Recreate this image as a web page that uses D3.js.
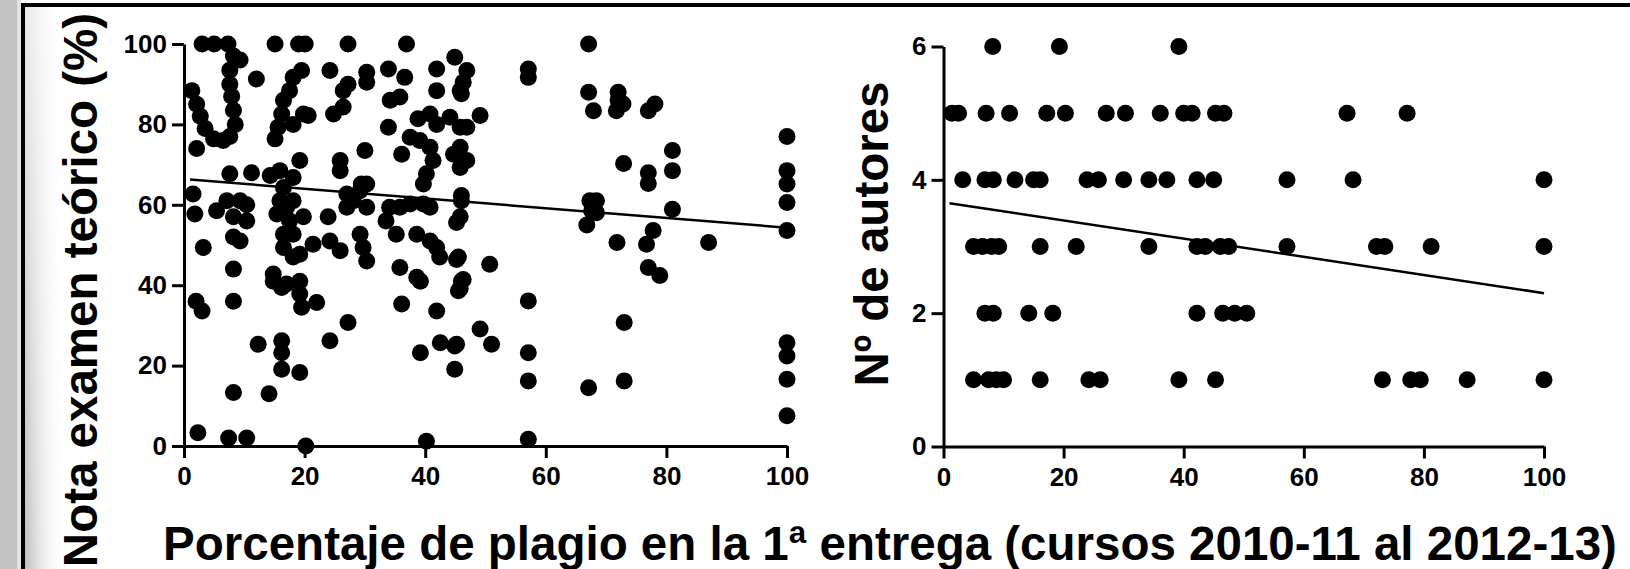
<!DOCTYPE html>
<html>
<head>
<meta charset="utf-8">
<script src="https://cdn.jsdelivr.net/npm/d3@7"></script>
<style>
  body { margin: 0; background: #fff; overflow: hidden; }
  text { font-family: "Liberation Sans", Arial, sans-serif; font-weight: bold; fill: #000; }
</style>
</head>
<body>
<div id="chart"></div>
<script>
// left panel: % plagio vs nota examen teorico
var plagioNota = [3,5,7.3,8.2,9.3,7.6,7.6,7.9,8.2,8.5,7.6,12,1.3,2.1,2.7,3.5,4.9,6.5,2.1,1.5,1.8,3.2,8.2,5.4,7.1,9.3,10.4,8.2,10.4,8.2,9.3,7.6,11.2,14.3,15.9,19.2,18.1,16.5,
  15.1,19,20.1,19.5,18.1,17.5,16.5,16.2,15.6,15.1,19.8,20.6,18.1,
  27.2,24.2,27.2,26.4,30.3,30.3,24.8,26.4,25.9,25.9,30,29.4,
  36.9,33.9,36.6,34.2,35.8,33.9,36.1,
  41.9,44.9,46.9,46.3,41.9,46,49.1,38.8,40.8,41.9,44.1,45.8,46.9,37.5,39.1,40.8,41.3,40.2,39.7,44.7,45.8,46.9,45.8,46,
  30.3,29.2,28.1,30.3,27,34.1,35.8,37.5,39.7,40.8,33.5,35.2,38.6,40.8,41.9,42.4,45.5,45.8,50.7,
  15.9,17,18.1,15.4,17.5,19.8,16.5,18.1,21.4,24.2,25.9,23.9,27,29.2,29.7,30.3,19.2,16.5,18.1,14.8,17,19.2,35.8,38.6,
  2,3,8.2,12.3,16.2,16.2,16.2,19.2,8.2,14.1,2.3,7.4,10.4,20.2,40.2,16.2,19.2,19.5,22,24.2,27.2,36.1,39.2,41.9,39.2,42.5,44.9,44.9,49.1,51,45.5,46,14.8,
  67.1,45.8,57.1,57.1,67.1,72,72,72.8,71.7,67.9,77,78.1,100,81,81,72.9,77,77,67.3,68.4,67.6,68.4,66.8,100,100,100,81,100,77.8,76.7,71.8,87,77,78.9,
  46,45.2,45.2,46.3,45.8,57.1,73,45.2,57.1,57.1,67.1,73,100,100,100,100,57.1];
var nota = [100,100,100,97,96,93.5,90,87,83.5,80,77,91.3,88.4,85,82,79,76.4,76,74,62.7,57.7,49.4,44,58.5,61,61,60,57,56,52,51,67.7,68,67.3,68.5,71,66.8,64.3,
  100,100,100,93.4,91.7,88.4,86,82.6,79.3,76.4,82.6,82.2,80,
  100,93.4,90,88.4,93,90.5,82.6,84.3,71,68.5,73.5,65.2,
  100,93.8,91.7,86,86.8,79.3,72.6,
  93.8,96.7,93.4,90.5,88.4,87.6,82.2,81.4,82.6,80,81.8,79.3,79.3,76.8,76,74.3,71,67.7,65.2,72.6,74.3,71,69.3,62.3,
  65.2,63.5,61,59.4,59.4,59.4,59.4,60.2,60.2,59.4,56,52.7,52.7,51,49.4,47,47,57,45.2,
  61,59.4,61,57.7,56,57,52.7,52.7,50.2,51,48.6,57,62.7,52.7,49.4,46,47.7,49.4,47,42.8,40.3,41,44.4,42,
  36,33.6,36,25.3,26.2,23.2,19.1,18.3,13.3,13,3.3,2,2,0,1.2,39.4,37.8,34.5,35.7,26.2,30.7,35.3,41,33.6,23.2,25.7,24.9,19.1,29.1,25.3,38.6,41,41,
  100,88.4,93.8,91.7,88,88,86,85.1,83.4,83.4,83.4,85.1,77,73.5,68.5,70.3,68,65.3,61,61,58.5,58,55,68.5,65.2,60.6,58.9,53.6,53.6,50.2,50.6,50.6,44.4,42.4,
  61,55.6,46.4,41.4,39.2,36.1,30.7,25.3,23.2,16.2,14.5,16.2,25.7,22.4,16.6,7.5,1.7];
var fitNota = [[1, 66.3], [100, 54.3]];

// right panel: % plagio vs numero de autores
var plagioAutores = [8.2,19.3,39.2,
  1.4,2.5,7.1,11,17.2,20.3,27.1,30.3,36.1,40,41.4,45.3,46.7,67.2,77.2,
  3.2,6.9,8.3,11.9,15,16.1,23.9,25.8,30,34.2,37.2,42.2,45,57.2,68.2,100,
  5,6.5,8,9.2,16.1,22.1,34.2,42.2,43.6,46.1,47.5,57.2,72.1,73.5,81.2,100,
  6.9,8.3,14.2,18.2,42.2,46.5,48.5,50.5,
  5,7.5,8.8,10,16.1,24.2,26.1,39.2,45.3,73.1,77.8,79.4,87.2,100];
var autores = [6,6,6,
  5,5,5,5,5,5,5,5,5,5,5,5,5,5,5,
  4,4,4,4,4,4,4,4,4,4,4,4,4,4,4,4,
  3,3,3,3,3,3,3,3,3,3,3,3,3,3,3,3,
  2,2,2,2,2,2,2,2,
  1,1,1,1,1,1,1,1,1,1,1,1,1,1];
var fitAutores = [[1, 3.65], [100, 2.3]];

var xTicks = [0, 20, 40, 60, 80, 100];
var notaTicks = [0, 20, 40, 60, 80, 100];
var autoresTicks = [0, 2, 4, 6];

var width = 1630, height = 569;

var svg = d3.select('#chart').append('svg')
    .attr('width', width)
    .attr('height', height);

// slide frame + shadow
var defs = svg.append('defs');
var shade = defs.append('linearGradient').attr('id', 'shade').attr('x1', 0).attr('x2', 1);
shade.append('stop').attr('offset', 0).attr('stop-color', '#a8a8a8').attr('stop-opacity', 0.75);
shade.append('stop').attr('offset', 1).attr('stop-color', '#ffffff').attr('stop-opacity', 0);
var fade = defs.append('linearGradient').attr('id', 'fade').attr('x1', 0).attr('x2', 0).attr('y1', 0).attr('y2', 1);
fade.append('stop').attr('offset', 0).attr('stop-color', '#fff').attr('stop-opacity', 0.35);
fade.append('stop').attr('offset', 1).attr('stop-color', '#fff').attr('stop-opacity', 1);
defs.append('mask').attr('id', 'fadeMask')
  .append('rect').attr('x', 0).attr('y', 0).attr('width', 80).attr('height', height).attr('fill', 'url(#fade)');

svg.append('rect').attr('x', 0).attr('y', 0).attr('width', 17).attr('height', height).attr('fill', '#c3c3c3');
svg.append('rect').attr('x', 17).attr('y', 0).attr('width', 4).attr('height', height).attr('fill', '#e4e4e4');
svg.append('rect').attr('x', 25).attr('y', 7).attr('width', 40).attr('height', height)
    .attr('fill', 'url(#shade)').attr('mask', 'url(#fadeMask)');
svg.append('rect').attr('x', 21).attr('y', 3).attr('width', width - 21).attr('height', 4).attr('fill', '#000');
svg.append('rect').attr('x', 21).attr('y', 3).attr('width', 4).attr('height', height).attr('fill', '#000');

function panel(cfg) {
  var x = d3.scaleLinear().domain([0, 100]).range(cfg.xRange);
  var y = d3.scaleLinear().domain(cfg.yDomain).range(cfg.yRange);
  var g = svg.append('g');

  var xAxis = d3.axisBottom(x).tickValues(xTicks).tickFormat(d3.format('d'))
      .tickSize(12).tickSizeOuter(0).tickPadding(9);
  var yAxis = d3.axisLeft(y).tickValues(cfg.yTicks).tickFormat(d3.format('d'))
      .tickSize(12).tickSizeOuter(0).tickPadding(5);

  [ [xAxis, `translate(0,${y(0)})`], [yAxis, `translate(${x(0)},0)`] ].forEach(function(a) {
    var ax = g.append('g')
        .attr('transform', a[1])
        .call(a[0])
        .attr('font-family', null)
        .attr('font-size', null);
    ax.selectAll('path, line').attr('stroke', '#000').attr('stroke-width', 3);
    ax.selectAll('text').style('font-size', '26px');
  });

  var xs = cfg.xs, ys = cfg.ys;
  g.selectAll('.dot')
    .data(xs.map((d, i) => [d, ys[i]]))
    .enter()
    .append('circle')
    .attr('class', 'dot')
    .attr('cx', d => x(d[0]))
    .attr('cy', d => y(d[1]))
    .attr('r', 8.5)
    .attr('fill', '#000');

  g.append('path')
    .datum(cfg.fit)
    .attr('d', d3.line().x(d => x(d[0])).y(d => y(d[1])))
    .attr('stroke', '#000')
    .attr('stroke-width', 2.5)
    .attr('fill', 'none');

  g.append('text')
    .attr('transform', `translate(${cfg.titleX},${cfg.titleY}) rotate(-90)`)
    .attr('text-anchor', 'middle')
    .style('font-size', '47.5px')
    .text(cfg.title);
}

panel({
  xRange: [184, 787], yDomain: [0, 100], yRange: [446, 44], yTicks: notaTicks,
  xs: plagioNota, ys: nota, fit: fitNota,
  title: 'Nota examen teórico (%)', titleX: 97, titleY: 290
});

panel({
  xRange: [943.5, 1544], yDomain: [0, 6], yRange: [446.5, 46.5], yTicks: autoresTicks,
  xs: plagioAutores, ys: autores, fit: fitAutores,
  title: 'Nº de autores', titleX: 888, titleY: 234
});

svg.append('text')
  .attr('x', 890)
  .attr('y', 560)
  .attr('text-anchor', 'middle')
  .style('font-size', '47.5px')
  .text('Porcentaje de plagio en la 1ª entrega (cursos 2010-11 al 2012-13)');
</script>
</body>
</html>
